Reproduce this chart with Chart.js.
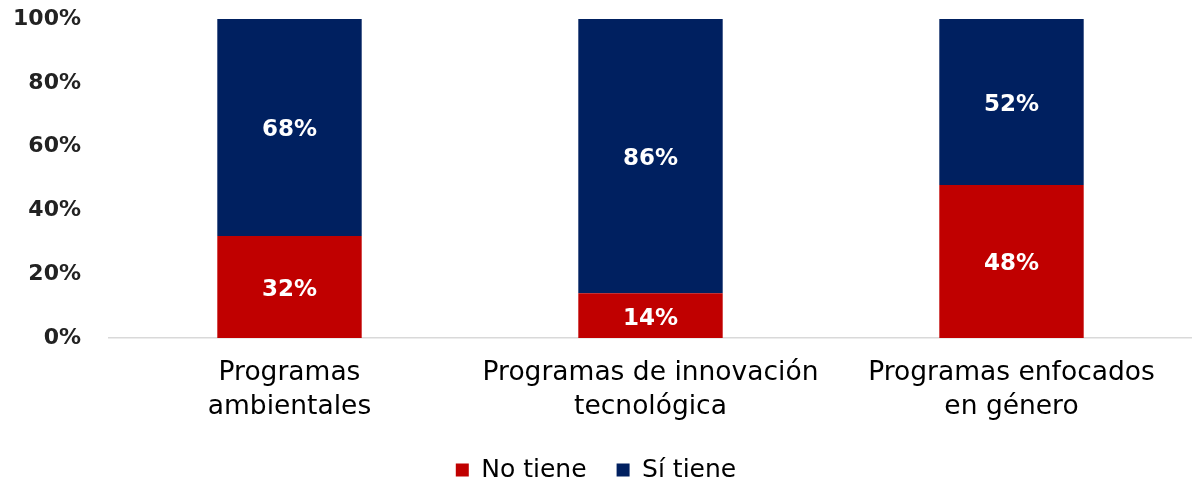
<!DOCTYPE html>
<html><head><meta charset="utf-8">
<script src="https://cdn.jsdelivr.net/npm/chart.js@4/dist/chart.umd.min.js"></script>
<style>html,body{margin:0;padding:0;background:#fff}#wrap{width:1192px;height:483px}</style>
</head><body><div id="wrap"><canvas id="c"></canvas></div>
<script>
const categories = [["Programas","ambientales"],["Programas de innovación","tecnológica"],["Programas enfocados","en género"]];
const noTiene = [32, 14, 48];
const siTiene = [68, 86, 52];
const yTicks = [0, 20, 40, 60, 80, 100];

const labelPlugin = {
  id: 'segLabels',
  afterDatasetsDraw(chart) {
    const ctx = chart.ctx;
    ctx.save();
    ctx.fillStyle = '#ffffff';
    ctx.font = 'bold 23px "DejaVu Sans", sans-serif';
    ctx.textAlign = 'center';
    ctx.textBaseline = 'middle';
    chart.data.datasets.forEach((ds, i) => {
      chart.getDatasetMeta(i).data.forEach((bar, j) => {
        const cy = (bar.y + bar.base) / 2 + 3;
        ctx.fillText(ds.data[j] + '%', bar.x, cy);
      });
    });
    ctx.restore();
  }
};

new Chart(document.getElementById('c'), {
  type: 'bar',
  data: {
    labels: categories,
    datasets: [
      {label: 'No tiene', data: noTiene, backgroundColor: '#c00000', barPercentage: 0.4, categoryPercentage: 1},
      {label: 'Sí tiene', data: siTiene, backgroundColor: '#002060', barPercentage: 0.4, categoryPercentage: 1}
    ]
  },
  options: {
    responsive: true, maintainAspectRatio: false, animation: false,
    layout: {padding: {top: 0, right: 0, left: 0, bottom: -9.5}},
    plugins: {
      legend: {position: 'bottom', labels: {boxWidth: 13, boxHeight: 13, padding: 30, color: '#000', font: {family: '"DejaVu Sans", sans-serif', size: 25}}},
      tooltip: {enabled: false}
    },
    scales: {
      x: {stacked: true,
          afterFit: (s) => { s.height = 89.5; },
          grid: {display: false, drawTicks: false},
          border: {display: true, color: '#d9d9d9', width: 1.5},
          ticks: {color: '#000', padding: 18, font: {family: '"DejaVu Sans", sans-serif', size: 26.5, lineHeight: 1.28}, maxRotation: 0}},
      y: {stacked: true, min: 0, max: 100,
          afterFit: (s) => { s.width = 109; s.paddingTop = 19; s.paddingBottom = 0; },
          afterBuildTicks: (s) => { s.ticks = yTicks.map(v => ({value: v})); },
          grid: {display: false, drawTicks: false},
          border: {display: false},
          ticks: {color: '#222', padding: 28, font: {family: '"DejaVu Sans", sans-serif', size: 22, weight: 'bold'}, callback: v => v + '%'}}
    }
  },
  plugins: [labelPlugin]
});
</script></body></html>
